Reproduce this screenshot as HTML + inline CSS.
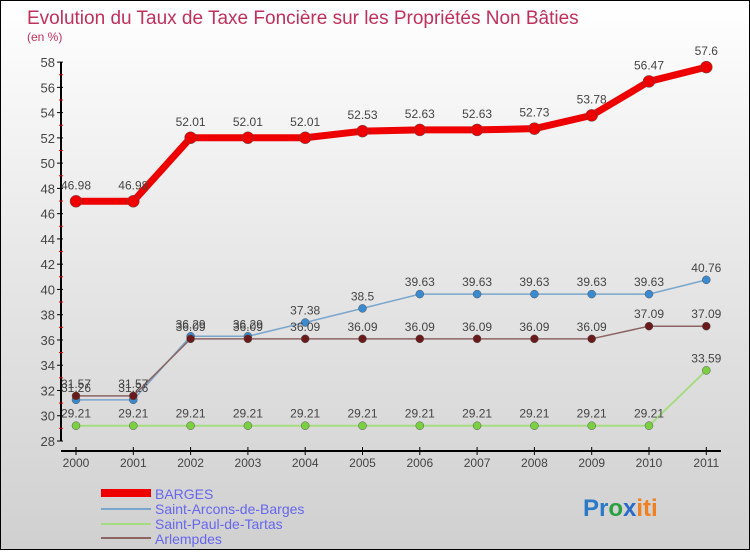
<!DOCTYPE html>
<html><head><meta charset="utf-8"><style>
body{margin:0;width:750px;height:550px;overflow:hidden;font-family:"Liberation Sans",sans-serif}
#wrap{position:relative;width:748px;height:548px;border:1px solid #000;background:linear-gradient(#fff 0%,#e6e6e6 50%,#d0d0d0 100%)}
</style></head><body>
<div id="wrap">
<svg id="chart" width="748" height="548">
<text x="26" y="23" font-size="19" fill="#c0305a">Evolution du Taux de Taxe Foncière sur les Propriétés Non Bâties</text>
<text x="26" y="40" font-size="12" fill="#c0305a">(en %)</text>
<g id="axes"></g><g id="series"></g>
<g>
<rect x="100" y="488" width="50" height="8" fill="#ee0000"/>
<text x="154" y="498" font-size="14" fill="#6666ee">BARGES</text>
<rect x="100" y="507" width="50" height="2" fill="#7aa6cc"/>
<text x="154" y="513" font-size="14" fill="#6666ee">Saint-Arcons-de-Barges</text>
<rect x="100" y="522" width="50" height="2" fill="#a6dc80"/>
<text x="154" y="528" font-size="14" fill="#6666ee">Saint-Paul-de-Tartas</text>
<rect x="100" y="536" width="50" height="2" fill="#8c6464"/>
<text x="154" y="543" font-size="14" fill="#6666ee">Arlempdes</text>
</g>
<text x="582" y="515" font-size="24" font-weight="bold"><tspan fill="#2a7ac8">Pr</tspan><tspan fill="#2aa040">o</tspan><tspan fill="#2a6ac8">x</tspan><tspan fill="#f08020">iti</tspan></text>
</svg></div>
<script>
const years=[2000,2001,2002,2003,2004,2005,2006,2007,2008,2009,2010,2011];
const barges=[46.98,46.98,52.01,52.01,52.01,52.53,52.63,52.63,52.73,53.78,56.47,57.6];
const arcons=[31.26,31.26,36.29,36.29,37.38,38.5,39.63,39.63,39.63,39.63,39.63,40.76];
const paul=[29.21,29.21,29.21,29.21,29.21,29.21,29.21,29.21,29.21,29.21,29.21,33.59];
const arlempdes=[31.57,31.57,36.09,36.09,36.09,36.09,36.09,36.09,36.09,36.09,37.09,37.09];
const yTicks=[28,30,32,34,36,38,40,42,44,46,48,50,52,54,56,58];
const NS="http://www.w3.org/2000/svg";
const xs=i=>75+i*57.3;
const ys=v=>440-(v-28)*12.63;
function mk(tag,attrs,parent){const e=document.createElementNS(NS,tag);for(const k in attrs)e.setAttribute(k,attrs[k]);parent.appendChild(e);return e;}
const ax=document.getElementById('axes');
let l=mk('line',{x1:60,y1:ys(58),x2:60,y2:440,stroke:'#000','stroke-width':2},ax);


l=mk('line',{x1:60,y1:450,x2:720,y2:450,stroke:'#000','stroke-width':2},ax);


yTicks.forEach(v=>{
 mk('line',{x1:56,y1:ys(v),x2:62,y2:ys(v),stroke:'#000'},ax);
 if(v<58) mk('line',{x1:58,y1:ys(v+1),x2:62,y2:ys(v+1),stroke:'#e00'},ax);
 const t=mk('text',{x:54,y:ys(v)+5,'font-size':13,fill:'#444','text-anchor':'end'},ax);
 t.textContent=v;
 
 
});
years.forEach((y,i)=>{
 mk('line',{x1:xs(i),y1:446,x2:xs(i),y2:454,stroke:'#000'},ax);
 const t=mk('text',{x:xs(i),y:466,'font-size':12,fill:'#444','text-anchor':'middle'},ax);
 t.textContent=y;
 
 
});
const sg=document.getElementById('series');
function series(vals,color,w,dot,r,name,labelCol){
 const g=mk('g',{},sg);
 
 
 mk('polyline',{points:vals.map((v,i)=>xs(i)+','+ys(v)).join(' '),fill:'none',stroke:color,'stroke-width':w,'stroke-linejoin':'round'},g);
 vals.forEach((v,i)=>{
  const c=mk('circle',{cx:xs(i),cy:ys(v),r:r,fill:dot,stroke:'#555','stroke-width':0.5},g);
  
  
  const t=mk('text',{x:xs(i),y:ys(v)-(w>4?12:8),'font-size':12,fill:labelCol,'text-anchor':'middle'},g);
  t.textContent=v;
  
  
 });
}
series(paul,'#a6dc80',2,'#7ad040',4,'saint-paul','#444');
series(arcons,'#7aa6cc',1.5,'#3a8ad0',4,'saint-arcons','#444');
series(arlempdes,'#8c6464',1.5,'#6a1a1a',4,'arlempdes','#444');
series(barges,'#ee0000',7,'#ee0000',6,'barges','#444');
</script>
</body></html>
